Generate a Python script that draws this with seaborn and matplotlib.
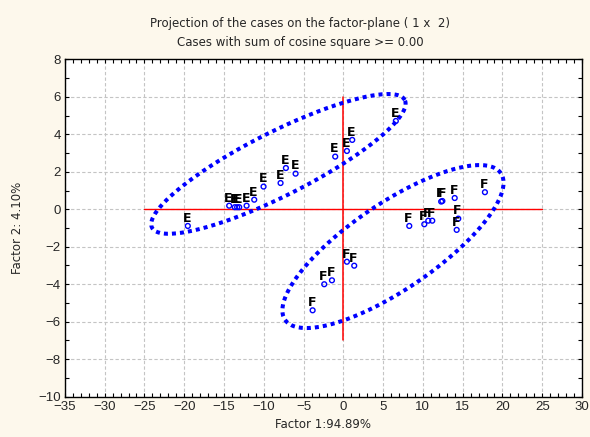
import numpy as np
import pandas as pd
import matplotlib
matplotlib.use("Agg")
import matplotlib.pyplot as plt
from matplotlib.ticker import MultipleLocator
import seaborn as sns

# -----------------------------------------------------------------------------
# case coordinates on the factor plane
# -----------------------------------------------------------------------------
e_x = [-19.55, -14.35, -13.64, -13.35, -13.09, -12.16, -11.2, -10.03, -7.89,
       -7.22, -6.0, -1.02, 0.45, 1.12, 6.6]
e_y = [-0.89, 0.19, 0.11, 0.11, 0.11, 0.19, 0.51, 1.21, 1.40,
       2.20, 1.90, 2.81, 3.11, 3.70, 4.71]

f_x = [12.3, 12.45, 14.0, 17.8, 14.45, 14.25, 8.29, 10.18, 10.68, 11.18,
       0.45, 1.37, -2.40, -1.43, -3.86]
f_y = [0.41, 0.44, 0.60, 0.91, -0.50, -1.10, -0.89, -0.80, -0.61, -0.61,
       -2.80, -3.01, -4.0, -3.79, -5.39]

# hand-drawn group ellipses: centre, semi-axes (x units), tilt in degrees
ell_cx = [-8.16, 6.24]
ell_cy = [2.42, -1.99]
ell_a = [17.8, 16.4]
ell_b = [4.0, 5.4]
ell_angle = [26.8, 34.2]

title = "Projection of the cases on the factor-plane ( 1 x  2)\nCases with sum of cosine square >= 0.00"
x_label = "Factor 1:94.89%"
y_label = "Factor 2: 4.10%"

df = pd.DataFrame({
    "f1": e_x + f_x,
    "f2": e_y + f_y,
    "case": ["E"] * len(e_x) + ["F"] * len(f_x),
})

sns.set_style("ticks")
plt.rcParams["font.family"] = ["Liberation Sans", "DejaVu Sans"]

bg = "#fdf8ec"
fig = plt.figure(figsize=(5.9, 4.37), dpi=100, facecolor=bg)
ax = fig.add_axes([0.110, 0.0922, 0.8764, 0.7721])
ax.set_facecolor("white")

ax.set_xlim(-35, 30)
ax.set_ylim(-10, 8)
ax.xaxis.set_major_locator(MultipleLocator(5))
ax.xaxis.set_minor_locator(MultipleLocator(1))
ax.yaxis.set_major_locator(MultipleLocator(2))
ax.yaxis.set_minor_locator(MultipleLocator(1))
ax.tick_params(which="both", direction="in", top=True, right=True,
               length=3, width=0.8, color="black", labelsize=9.5, pad=3)
ax.grid(True, which="major", color="#c4c4c4", linestyle=(0, (3, 2)), linewidth=0.8)
ax.set_axisbelow(True)
for s in ax.spines.values():
    s.set_color("black")
    s.set_linewidth(1.0)

# red reference axes
ax.plot([-25, 25], [0, 0], color="red", lw=1.0, zorder=2)
ax.plot([0, 0], [-7, 6], color="red", lw=1.1, zorder=2)

# ellipses drawn so that they look round-true on screen
bbox = ax.get_window_extent()
r = (bbox.height / 18.0) / (bbox.width / 65.0)
t = np.linspace(0, 2 * np.pi, 400)
for cx, cy, a, b, ang in zip(ell_cx, ell_cy, ell_a, ell_b, ell_angle):
    th = np.deg2rad(ang)
    ex = cx + a * np.cos(th) * np.cos(t) - b * np.sin(th) * np.sin(t)
    ey = cy + (a * np.sin(th) * np.cos(t) + b * np.cos(th) * np.sin(t)) / r
    ax.plot(ex, ey, color="#0000ff", lw=2.9, linestyle=(0, (1, 1)),
            dash_capstyle="butt", zorder=3)

sns.scatterplot(data=df, x="f1", y="f2", ax=ax, marker="o", s=12,
                facecolor="none", edgecolor="#0000ff", linewidth=1.0,
                legend=False, zorder=4)

for _, row in df.iterrows():
    ax.annotate(row["case"], (row["f1"], row["f2"]), xytext=(-0.5, 3),
                textcoords="offset points", ha="center", va="baseline",
                fontsize=9, fontweight="bold", color="black",
                family=["DejaVu Sans"], zorder=5)

ax.set_xlabel(x_label, fontsize=8.5, labelpad=4, family=["DejaVu Sans"])
ax.set_ylabel(y_label, fontsize=8.5, labelpad=10, family=["DejaVu Sans"])
fig.text(0.509, 0.925, title, ha="center", va="center", fontsize=8.5,
         linespacing=1.55, family=["DejaVu Sans"])

fig.savefig("out.png", dpi=100, facecolor=bg)
